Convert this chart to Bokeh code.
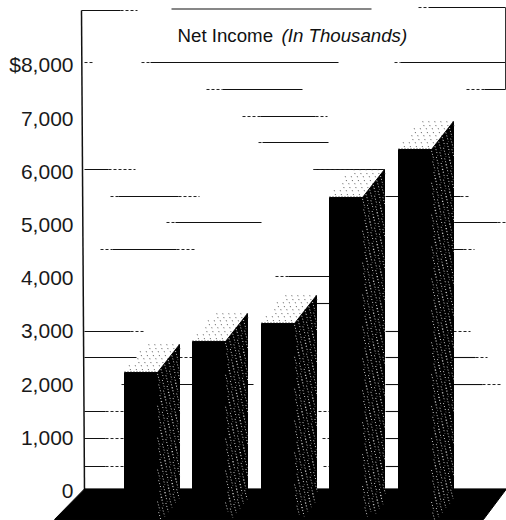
from bokeh.core.properties import value
from bokeh.embed import file_html
from bokeh.models import FixedTicker, Range1d
from bokeh.plotting import figure
from bokeh.resources import INLINE

# Net income per year, in thousands of dollars
net_income = [2218, 2800, 3139, 5508, 6410]
bar_left = [124, 192, 261, 329, 398]

tick_values = [0, 1000, 2000, 3000, 4000, 5000, 6000, 7000, 8000]
tick_labels = ["0", "1,000", "2,000", "3,000", "4,000", "5,000", "6,000", "7,000", "$8,000"]

# Solid pieces of the broken rules: (level, start, end)
solid_rules = [
    (9023, 81, 120), (9051, 171, 371), (9079, 428, 505),
    (8045, 150, 338), (8045, 400, 505),
    (7538, 222, 302), (7538, 484, 505),
    (7030, 260, 315), (6541, 262, 328),
    (6034, 84, 108), (6034, 313, 384),
    (5526, 118, 178), (5526, 385, 460),
    (5038, 175, 261), (5038, 453, 497),
    (4530, 112, 176), (4530, 453, 463),
    (4023, 288, 329), (3515, 316, 329),
    (2989, 84, 130), (2989, 385, 398),
    (2500, 84, 136), (2500, 385, 398), (2500, 453, 475),
    (1992, 179, 192), (1992, 247, 253), (1992, 385, 398), (1992, 453, 482),
    (1485, 84, 105), (1485, 385, 398),
    (977, 84, 105), (977, 385, 398),
    (451, 84, 105), (451, 385, 398),
]

# Dotted tails where the rules break up
dotted_rules = [
    (9023, 120, 137), (9079, 418, 428),
    (8045, 84, 92), (8045, 141, 150), (8045, 394, 400),
    (7538, 206, 222), (7538, 466, 484),
    (7030, 242, 260), (7030, 315, 327), (6541, 258, 262),
    (6034, 108, 135), (6034, 313, 350),
    (5526, 110, 118), (5526, 178, 199), (5526, 460, 468),
    (5038, 166, 175), (5038, 497, 506),
    (4530, 100, 112), (4530, 176, 196), (4530, 463, 474),
    (4023, 275, 288),
    (2989, 130, 145), (2989, 453, 470),
    (2500, 179, 192), (2500, 475, 487),
    (1992, 121, 124), (1992, 482, 500),
    (1485, 105, 124), (977, 105, 124), (451, 105, 124),
    (1485, 318, 329), (977, 322, 329), (451, 323, 329),
]

BAR_W = 33
DEPTH_X = 22
DEPTH_Y = 526
FLOOR = 30

p = figure(
    width=506, height=520, output_backend="svg", toolbar_location=None,
    x_range=Range1d(0, 506), y_range=Range1d(-564, 9211),
    x_axis_location=None, min_border_left=0, min_border_right=0,
    min_border_top=0, min_border_bottom=0, outline_line_color=None,
)
p.grid.visible = False
p.yaxis.fixed_location = 81
p.yaxis.ticker = FixedTicker(ticks=tick_values)
p.yaxis.major_label_overrides = {v: s for v, s in zip(tick_values, tick_labels)}
p.yaxis.major_label_text_font = "Liberation Sans"
p.yaxis.major_label_text_font_size = "21px"
p.yaxis.major_label_text_color = "#1a1a1a"
p.yaxis.major_label_standoff = 8
p.yaxis.axis_line_color = None
p.yaxis.major_tick_line_color = None
p.yaxis.minor_tick_line_color = None
p.yaxis.major_tick_out = 0
p.yaxis.major_tick_in = 0

# Broken horizontal rules behind the bars
for level, x0, x1 in solid_rules:
    p.line([x0, x1], [level, level], line_color="#111111", line_width=1.1)
for level, x0, x1 in dotted_rules:
    p.line([x0, x1], [level, level], line_color="#222222", line_width=1, line_dash="3 2")

# Slightly leaning left wall and the right edge of the title frame
p.line([81, 84], [9023, 0], line_color="#111111", line_width=1.5)
p.line([505, 505], [9079, 7538], line_color="#333333", line_width=1)

# Floor of the chart
p.patch([84, 506, 483, 54], [FLOOR, FLOOR, -545, -545], color="black")

top_xs, top_ys, side_xs, side_ys, edge_xs, edge_ys = [], [], [], [], [], []

# Each bar: dotted top, stippled side, solid front
for left, val in zip(bar_left, net_income):
    right = left + BAR_W

    # short streaks in the top face, sloping down to the right
    for row in range(4):
        f = (row + 0.5) / 4
        for col in range(6):
            x = left + DEPTH_X * f + 2 + col * 6 + (row % 2) * 3
            top_xs.append([x, x + 2])
            top_ys.append([val + DEPTH_Y * f + 70, val + DEPTH_Y * f - 70])
    edge_xs.append([left, right])
    edge_ys.append([val + 12, val + 12])

    p.patch([right, right + DEPTH_X, right + DEPTH_X, right],
            [FLOOR, FLOOR, val + DEPTH_Y, val], color="black")

    # pale streaks across the side face, running on over the floor
    for col in range(6):
        x0 = right + 1 + col * 3.6
        f = (x0 - right) / DEPTH_X
        level = val + DEPTH_Y * f - 50
        row = 0
        while level > -420 + col * 50:
            x = x0 + (row % 3) * 1.2 - 1
            side_xs.append([x, x + 2.5])
            side_ys.append([level, level - 170])
            level -= 200
            row += 1

    p.vbar(x=left + BAR_W / 2, width=BAR_W, top=val, bottom=FLOOR, color="black")

p.multi_line(top_xs, top_ys, line_color="#444444", line_width=0.9, line_dash="1 3")
p.multi_line(edge_xs, edge_ys, line_color="#222222", line_width=1, line_dash="1 2")
p.multi_line(side_xs, side_ys, line_color="#e2e2e2", line_width=0.9, line_dash="1 2")

# Title, upright then italic
p.text([177], [8553], text=["Net Income"], text_font=value("Liberation Sans"),
       text_font_size="18.7px", text_color="#111111", text_baseline="middle")
p.text([281], [8553], text=["(In Thousands)"], text_font=value("Liberation Sans"),
       text_font_style="italic", text_font_size="18.7px", text_color="#111111",
       text_baseline="middle")

open("out.html", "w").write(file_html(p, INLINE))
